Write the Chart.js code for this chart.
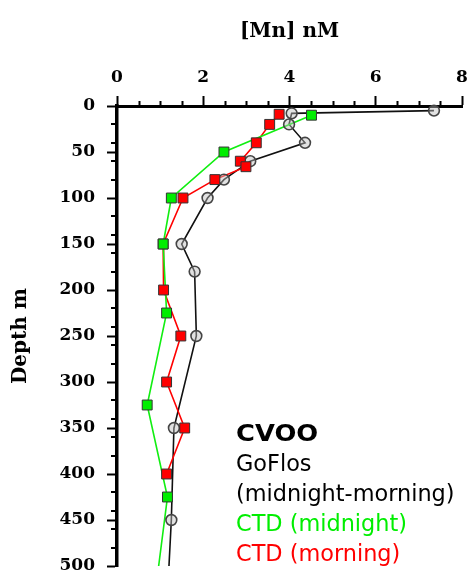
<!DOCTYPE html>
<html>
<head>
<meta charset="utf-8">
<script src="https://cdn.jsdelivr.net/npm/chart.js@4"></script>
<style>
  html, body { margin: 0; padding: 0; background: #fff; }
  #wrap { width: 470px; height: 574px; }
</style>
</head>
<body>
<div id="wrap"><canvas id="c" width="470" height="574"></canvas></div>
<script>
// ---- data (depth in m, [Mn] in nM) ----
const goflosDepth = [5, 8, 20, 40, 60, 80, 100, 150, 180, 250, 350, 450, 550];
const goflosMn    = [7.35, 4.05, 3.99, 4.36, 3.09, 2.48, 2.10, 1.50, 1.80, 1.84, 1.32, 1.26, 1.15];

const ctdMidnightDepth = [10, 50, 100, 150, 225, 325, 425, 550];
const ctdMidnightMn    = [4.51, 2.48, 1.26, 1.07, 1.15, 0.70, 1.17, 0.83];

const ctdMorningDepth = [9, 20, 40, 60, 66, 80, 100, 150, 200, 250, 300, 350, 400];
const ctdMorningMn    = [3.76, 3.54, 3.23, 2.86, 2.99, 2.27, 1.53, 1.07, 1.08, 1.48, 1.15, 1.57, 1.15];

const xTickValues = [0, 2, 4, 6, 8];
const yTickValues = [0, 50, 100, 150, 200, 250, 300, 350, 400, 450, 500];
const xMinorTicks = [0.5, 1, 1.5, 2.5, 3, 3.5, 4.5, 5, 5.5, 6.5, 7, 7.5];
const yMinorTicks = [20, 40, 60, 80, 120, 140, 160, 180, 220, 240, 260, 280, 320, 340, 360, 380, 420, 440, 460, 480];

const xTitle = '[Mn] nM';
const yTitle = 'Depth m';

const legendHeader = 'CVOO';
const legendLines = [
  { text: 'GoFlos', color: '#000000' },
  { text: '(midnight-morning)', color: '#000000' },
  { text: 'CTD (midnight)', color: '#00ee00' },
  { text: 'CTD (morning)', color: '#ff0000' }
];

const toPts = (mn, depth) => mn.map((v, i) => ({ x: v, y: depth[i] }));

const GREEN_LINE = '#11ee11';
const GREEN_FILL = '#00ee00';
const RED = '#ff0000';

const clipOpt = { left: 12, top: 12, right: 12, bottom: 0 };

const lineDs = (label, data, color, order) => ({
  label, data, borderColor: color, borderWidth: 1.6, pointRadius: 0,
  showLine: true, fill: false, tension: 0, order, clip: clipOpt
});
const pointDs = (label, data, style, radius, fillC, borderC, borderW, order) => ({
  label, data, showLine: false, pointStyle: style, pointRadius: radius,
  pointBackgroundColor: fillC, pointBorderColor: borderC, pointBorderWidth: borderW,
  order, clip: clipOpt
});

const minorTicksPlugin = {
  id: 'minorTicks',
  afterDraw(chart) {
    const { ctx, chartArea, scales } = chart;
    ctx.save();
    ctx.strokeStyle = '#000';
    ctx.lineWidth = 2;
    ctx.beginPath();
    xMinorTicks.forEach(v => {
      const px = Math.round(scales.x.getPixelForValue(v)) + 0.5;
      ctx.moveTo(px, chartArea.top - 5);
      ctx.lineTo(px, chartArea.top);
    });
    yMinorTicks.forEach(v => {
      const py = Math.round(scales.y.getPixelForValue(v));
      ctx.moveTo(chartArea.left - 6, py);
      ctx.lineTo(chartArea.left, py);
    });
    ctx.stroke();
    ctx.restore();
  }
};

const textBlockPlugin = {
  id: 'textBlock',
  afterDraw(chart) {
    const ctx = chart.ctx;
    ctx.save();
    ctx.textAlign = 'left';
    ctx.textBaseline = 'alphabetic';
    const x0 = 236;
    ctx.save();
    ctx.translate(x0, 441);
    ctx.scale(1.12, 1);
    ctx.font = 'bold 23px "DejaVu Sans"';
    ctx.fillStyle = '#000';
    ctx.fillText(legendHeader, 0, 0);
    ctx.restore();
    ctx.font = '22.4px "DejaVu Sans"';
    legendLines.forEach((l, i) => {
      ctx.fillStyle = l.color;
      ctx.fillText(l.text, x0, 471 + i * 30);
    });
    ctx.restore();
  }
};

new Chart(document.getElementById('c'), {
  type: 'scatter',
  data: {
    datasets: [
      pointDs('CTD (midnight)', toPts(ctdMidnightMn, ctdMidnightDepth), 'rect', 7, GREEN_FILL, '#333', 1, 0),
      pointDs('CTD (morning)', toPts(ctdMorningMn, ctdMorningDepth), 'rect', 7, RED, '#333', 1, 1),
      pointDs('GoFlos', toPts(goflosMn, goflosDepth), 'circle', 5.4, 'rgba(190,190,190,0.45)', '#444', 1.6, 2),
      lineDs('CTD (midnight) line', toPts(ctdMidnightMn, ctdMidnightDepth), GREEN_LINE, 3),
      lineDs('CTD (morning) line', toPts(ctdMorningMn, ctdMorningDepth), RED, 4),
      lineDs('GoFlos line', toPts(goflosMn, goflosDepth), '#111', 5)
    ]
  },
  options: {
    responsive: false,
    animation: false,
    events: [],
    layout: { padding: { left: 0, top: 0, right: 8, bottom: 8 } },
    plugins: { legend: { display: false }, tooltip: { enabled: false } },
    scales: {
      x: {
        type: 'linear', position: 'top', min: 0, max: 8,
        afterBuildTicks: s => { s.ticks = xTickValues.map(v => ({ value: v })); },
        afterFit: s => { s.height = 106; s.paddingLeft = 0; s.paddingRight = 0; },
        ticks: { color: '#000', padding: 8, maxRotation: 0, autoSkip: false,
                 font: { family: 'DejaVu Serif', weight: 'bold', size: 17 } },
        grid: { drawOnChartArea: false, drawTicks: true, tickLength: 10, tickWidth: 2, tickColor: '#000' },
        border: { display: true, width: 3, color: '#000' },
        title: { display: true, text: xTitle, color: '#000', padding: { top: 20, bottom: 0 },
                 font: { family: 'DejaVu Serif', weight: 'bold', size: 20 } }
      },
      y: {
        type: 'linear', position: 'left', min: 0, max: 500, reverse: true,
        afterBuildTicks: s => { s.ticks = yTickValues.map(v => ({ value: v })); },
        afterFit: s => { s.width = 117; s.paddingTop = 0; s.paddingBottom = 0; },
        ticks: { color: '#000', padding: 12, autoSkip: false,
                 font: { family: 'DejaVu Serif', weight: 'bold', size: 17 } },
        grid: { drawOnChartArea: false, drawTicks: true, tickLength: 10, tickWidth: 2, tickColor: '#000' },
        border: { display: true, width: 3.5, color: '#000' },
        title: { display: true, text: yTitle, color: '#000', padding: { top: 9, bottom: 0 },
                 font: { family: 'DejaVu Serif', weight: 'bold', size: 20 } }
      }
    }
  },
  plugins: [minorTicksPlugin, textBlockPlugin]
});
</script>
</body>
</html>
